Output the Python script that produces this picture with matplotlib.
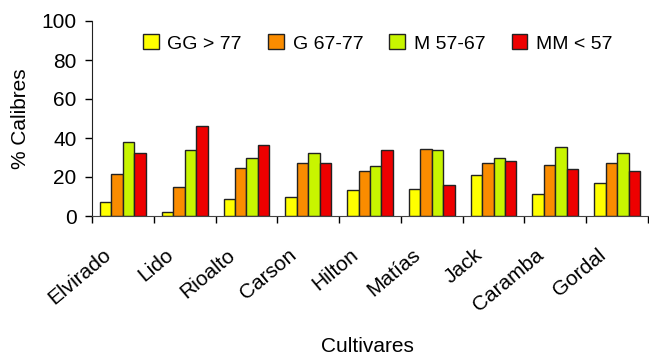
import matplotlib
matplotlib.use("Agg")
import matplotlib.pyplot as plt
import matplotlib.transforms as mtransforms
import numpy as np

plt.rcParams['font.family'] = ['Liberation Sans', 'DejaVu Sans']

cultivares = ["Elvirado", "Lido", "Rioalto", "Carson", "Hilton", "Matías", "Jack", "Caramba", "Gordal"]
series = ["GG > 77", "G 67-77", "M 57-67", "MM < 57"]
gg = [7.0, 2.0, 8.6, 10.0, 13.2, 14.0, 21.0, 11.5, 16.9]
g = [21.5, 15.0, 24.6, 27.4, 23.3, 34.2, 27.2, 26.2, 27.4]
m = [38.0, 33.8, 29.7, 32.3, 25.6, 33.7, 29.7, 35.2, 32.5]
mm = [32.3, 46.0, 36.6, 27.0, 33.7, 16.1, 28.2, 24.1, 22.9]
colores = ["#FFFF00", "#FA8C00", "#C8F500", "#EE0000"]

fig = plt.figure(figsize=(6.49, 3.56), dpi=100)
ax = fig.add_axes([92/649, 140/356, 556/649, 195/356])

x = np.arange(len(cultivares))
w = 0.185
for i, (vals, c, lab) in enumerate(zip([gg, g, m, mm], colores, series)):
    ax.bar(x + (i - 1.5) * w, vals, w, color=c, edgecolor="#222222", linewidth=1, label=lab)

ax.set_xlim(-0.5, len(cultivares) - 0.5)
ax.set_ylim(0, 100)
ax.set_yticks([0, 20, 40, 60, 80, 100])
ax.set_xticks(np.arange(len(cultivares) + 1) - 0.5)
ax.set_xticklabels([])
ax.set_xticks(x, minor=True)
ax.set_xticklabels(cultivares, minor=True, rotation=40, ha="right", rotation_mode="anchor", fontsize=15)
ax.tick_params(axis="x", which="minor", length=0, pad=21)
ax.tick_params(axis="x", which="major", length=5, width=1, direction="out")
ax.tick_params(axis="y", length=5, width=1, labelsize=15, pad=6)

# correr las etiquetas un poco a la izquierda
off = mtransforms.ScaledTranslation(-0.2, 0, fig.dpi_scale_trans)
for t in ax.get_xticklabels(minor=True):
    t.set_transform(t.get_transform() + off)

for s in ["top", "right"]:
    ax.spines[s].set_visible(False)
ax.spines["left"].set_color("#222222")
ax.spines["bottom"].set_color("#444444")

ax.set_ylabel("% Calibres", fontsize=15, labelpad=8)
fig.text(367/649, 1 - 347/356, "Cultivares", ha="center", va="center", fontsize=15)

ax.legend(loc="center", bbox_to_anchor=(0.514, 0.885), ncol=4, frameon=False, fontsize=14,
          handlelength=0.8, handleheight=0.8, handletextpad=0.45, columnspacing=1.35)

fig.savefig("out.png", dpi=100)
